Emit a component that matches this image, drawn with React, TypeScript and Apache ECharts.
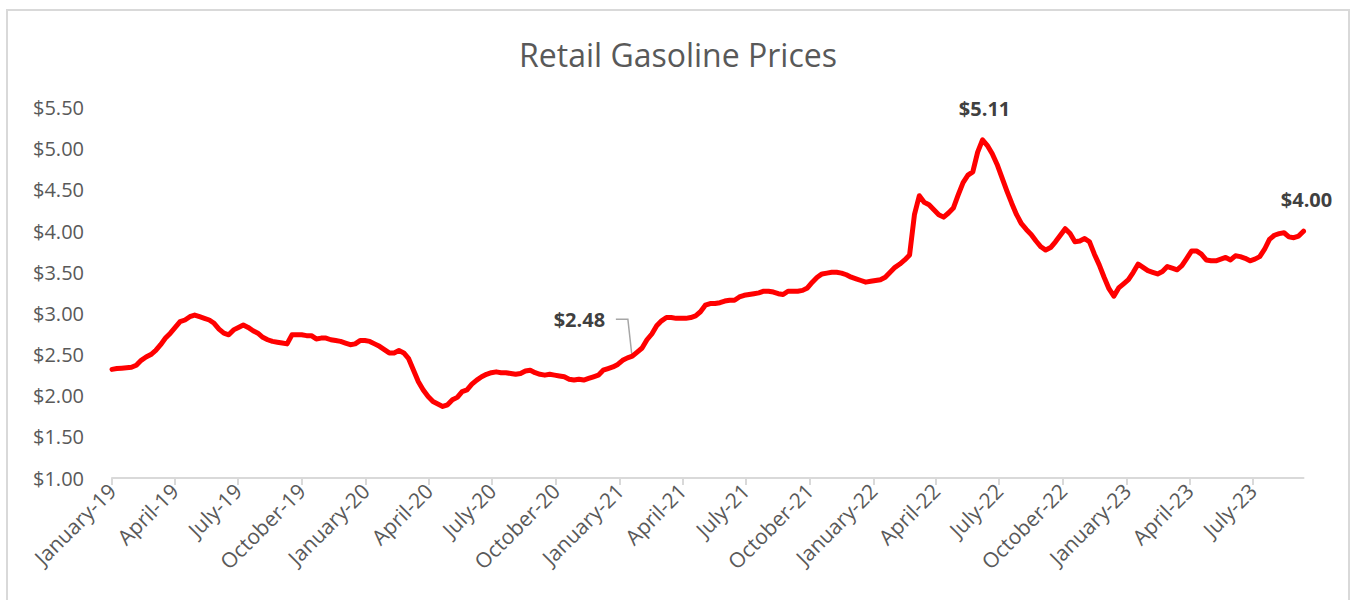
import React, { useEffect, useRef } from "react";
import * as echarts from "echarts";

// Weekly retail gasoline prices (USD / gallon), first week = 2019-01-07
const START_DATE = "2019-01-07";
const PRICES = [
  2.32, 2.33, 2.335, 2.34, 2.345, 2.37, 2.43, 2.47, 2.5, 2.55,
  2.62, 2.7, 2.76, 2.83, 2.9, 2.92, 2.96, 2.98, 2.96, 2.94,
  2.92, 2.88, 2.81, 2.76, 2.74, 2.8, 2.83, 2.86, 2.83, 2.79,
  2.76, 2.71, 2.68, 2.66, 2.65, 2.64, 2.63, 2.74, 2.74, 2.74,
  2.73, 2.73, 2.69, 2.7, 2.7, 2.68, 2.67, 2.66, 2.64, 2.62,
  2.63, 2.67, 2.67, 2.66, 2.63, 2.6, 2.56, 2.52, 2.52, 2.55,
  2.52, 2.45, 2.31, 2.17, 2.07, 1.99, 1.93, 1.9, 1.87, 1.89,
  1.95, 1.98, 2.05, 2.07, 2.14, 2.19, 2.23, 2.26, 2.28, 2.29,
  2.28, 2.28, 2.27, 2.26, 2.27, 2.3, 2.31, 2.28, 2.26, 2.25,
  2.26, 2.25, 2.24, 2.23, 2.2, 2.19, 2.2, 2.19, 2.21, 2.23,
  2.25, 2.31, 2.33, 2.35, 2.38, 2.43, 2.46, 2.48, 2.53, 2.58,
  2.68, 2.75, 2.85, 2.91, 2.95, 2.95, 2.94, 2.94, 2.94, 2.95,
  2.97, 3.02, 3.1, 3.12, 3.12, 3.13, 3.15, 3.16, 3.16, 3.2,
  3.22, 3.23, 3.24, 3.25, 3.27, 3.27, 3.26, 3.24, 3.23, 3.27,
  3.27, 3.27, 3.28, 3.31, 3.38, 3.44, 3.48, 3.49, 3.5, 3.5,
  3.49, 3.47, 3.44, 3.42, 3.4, 3.38, 3.39, 3.4, 3.41, 3.44,
  3.5, 3.56, 3.6, 3.65, 3.71, 4.2, 4.43, 4.35, 4.32, 4.26,
  4.2, 4.17, 4.22, 4.28, 4.44, 4.59, 4.68, 4.72, 4.96, 5.11,
  5.04, 4.94, 4.81, 4.65, 4.49, 4.34, 4.2, 4.09, 4.02, 3.96,
  3.88, 3.81, 3.77, 3.8, 3.87, 3.95, 4.03, 3.97, 3.87, 3.88,
  3.91, 3.87, 3.72, 3.59, 3.44, 3.3, 3.21, 3.31, 3.36, 3.41,
  3.5, 3.6, 3.56, 3.52, 3.5, 3.48, 3.51, 3.57, 3.55, 3.53,
  3.58, 3.67, 3.76, 3.76, 3.72, 3.65, 3.64, 3.64, 3.66, 3.68,
  3.65, 3.7, 3.69, 3.67, 3.64, 3.66, 3.69, 3.78, 3.9, 3.95,
  3.97, 3.98, 3.93, 3.92, 3.94, 4.0,
];

const TICK_DATES = [
  "2019-01-07", "2019-04-07", "2019-07-07", "2019-10-07",
  "2020-01-07", "2020-04-07", "2020-07-07", "2020-10-07",
  "2021-01-07", "2021-04-07", "2021-07-07", "2021-10-07",
  "2022-01-07", "2022-04-07", "2022-07-07", "2022-10-07",
  "2023-01-07", "2023-04-07", "2023-07-07",
];
const TICK_LABELS = [
  "January-19", "April-19", "July-19", "October-19",
  "January-20", "April-20", "July-20", "October-20",
  "January-21", "April-21", "July-21", "October-21",
  "January-22", "April-22", "July-22", "October-22",
  "January-23", "April-23", "July-23",
];
const Y_TICKS = [1, 1.5, 2, 2.5, 3, 3.5, 4, 4.5, 5, 5.5];

// Annotated points (index into PRICES)
const CALLOUT_INDEX = 107;
const PEAK_INDEX = 179;
const LAST_INDEX = PRICES.length - 1;

const FONT = "'Open Sans', 'Noto Sans', sans-serif";
const DAY = 86400000;

function dayOffset(s: string): number {
  const [y, m, d] = s.split("-").map(Number);
  const [y0, m0, d0] = START_DATE.split("-").map(Number);
  return Math.round((Date.UTC(y, m - 1, d) - Date.UTC(y0, m0 - 1, d0)) / DAY);
}

export default function App() {
  const ref = useRef<HTMLDivElement>(null);

  useEffect(() => {
    if (!ref.current) return;
    const chart = echarts.init(ref.current, null, { renderer: "svg" });
    const tickDays = TICK_DATES.map(dayOffset);
    const xOf = (i: number) => i * 7;

    const labelStyle = {
      show: true,
      position: "inside",
      fontFamily: FONT,
      fontWeight: "bold",
      fontSize: 20,
      color: "#404040",
    };

    const data = PRICES.map((v, i) => {
      const x = xOf(i);
      const fmt = "$" + v.toFixed(2);
      if (i === CALLOUT_INDEX) {
        return { value: [x, v], label: { ...labelStyle, formatter: fmt, offset: [-53, -37] } };
      }
      if (i === PEAK_INDEX) {
        return { value: [x, v], label: { ...labelStyle, formatter: fmt, offset: [2, -31] } };
      }
      if (i === LAST_INDEX) {
        return { value: [x, v], label: { ...labelStyle, formatter: fmt, offset: [3, -32] } };
      }
      return [x, v];
    });

    chart.setOption({
      animation: false,
      backgroundColor: "transparent",
      title: {
        text: "Retail Gasoline Prices",
        left: "center",
        top: 33,
        textStyle: { fontFamily: FONT, fontSize: 32, fontWeight: "normal", color: "#595959" },
      },
      grid: { left: 112, right: 52.5, top: 107.7, bottom: 122 },
      xAxis: {
        type: "value",
        min: 0,
        max: xOf(LAST_INDEX),
        splitLine: { show: false },
        axisLine: { show: true, onZero: false, lineStyle: { color: "#d9d9d9", width: 2 } },
        axisTick: {
          show: true,
          customValues: tickDays,
          length: 7,
          lineStyle: { color: "#d9d9d9", width: 2 },
        },
        axisLabel: {
          customValues: tickDays,
          rotate: 45,
          margin: 9,
          fontFamily: FONT,
          fontSize: 21,
          color: "#595959",
          showMinLabel: true,
          showMaxLabel: true,
          formatter: (val: number) => {
            const k = tickDays.indexOf(Math.round(val));
            return k >= 0 ? TICK_LABELS[k] : "";
          },
        },
      },
      yAxis: {
        type: "value",
        min: Y_TICKS[0],
        max: Y_TICKS[Y_TICKS.length - 1],
        interval: 0.5,
        splitLine: { show: false },
        axisLine: { show: false },
        axisTick: { show: false },
        axisLabel: {
          margin: 28,
          fontFamily: FONT,
          fontSize: 20,
          color: "#595959",
          formatter: (v: number) => "$" + v.toFixed(2),
        },
      },
      series: [
        {
          type: "line",
          data,
          showSymbol: true,
          showAllSymbol: true,
          symbol: "circle",
          symbolSize: 1,
          itemStyle: { color: "#ff0000" },
          lineStyle: { color: "#ff0000", width: 5, cap: "round", join: "round" },
          z: 3,
        },
      ],
    });

    const p = chart.convertToPixel({ xAxisIndex: 0, yAxisIndex: 0 }, [
      xOf(CALLOUT_INDEX),
      PRICES[CALLOUT_INDEX],
    ]) as number[];
    if (p && isFinite(p[0])) {
      chart.setOption({
        graphic: [
          {
            type: "polyline",
            silent: true,
            z: 2,
            shape: {
              points: [
                [p[0] - 0.5, p[1] - 1],
                [p[0] - 4.5, p[1] - 37],
                [p[0] - 16.5, p[1] - 37],
              ],
            },
            style: { stroke: "#a6a6a6", lineWidth: 1.5, fill: "none" },
          },
        ],
      });
    }

    return () => chart.dispose();
  }, []);

  return (
    <div style={{ position: "fixed", left: 0, top: 0, width: 1356, height: 600, background: "#fff", overflow: "hidden" }}>
      <div
        style={{
          position: "absolute",
          left: 6,
          top: 9,
          width: 1344,
          height: 620,
          border: "2px solid #d9d9d9",
          boxSizing: "border-box",
        }}
      />
      <div ref={ref} style={{ position: "absolute", left: 0, top: 0, width: 1356, height: 600 }} />
    </div>
  );
}
